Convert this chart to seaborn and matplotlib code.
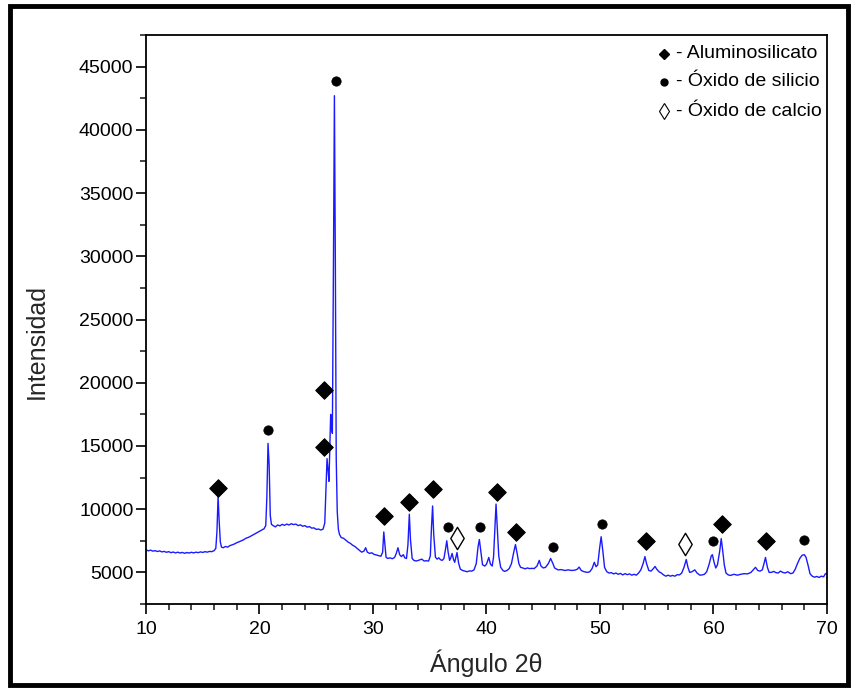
import matplotlib
matplotlib.use("Agg")
import matplotlib.pyplot as plt
import seaborn as sns
import pandas as pd
from matplotlib.patches import Rectangle

# ---- data ----
two_theta = [10.0, 10.2, 10.4, 10.6, 10.8, 11.0, 11.2, 11.4, 11.6, 11.8, 12.0, 12.2, 12.4, 12.6, 12.8,
             13.0, 13.2, 13.4, 13.6, 13.8, 14.0, 14.2, 14.4, 14.6, 14.8, 15.0, 15.2, 15.4, 15.6, 15.8,
             16.0, 16.15, 16.25, 16.35, 16.45, 16.55, 16.65, 16.8, 17.0, 17.2, 17.4, 17.6, 17.8, 18.0,
             18.2, 18.4, 18.6, 18.8, 19.0, 19.2, 19.4, 19.6, 19.8, 20.0, 20.2, 20.4, 20.55, 20.65, 20.75,
             20.85, 20.95, 21.05, 21.2, 21.4, 21.6, 21.8, 22.0, 22.2, 22.4, 22.6, 22.8, 23.0, 23.2, 23.4,
             23.6, 23.8, 24.0, 24.2, 24.4, 24.6, 24.8, 25.0, 25.2, 25.4, 25.6, 25.75, 25.85, 25.95, 26.05,
             26.12, 26.2, 26.27, 26.35, 26.42, 26.52, 26.6, 26.68, 26.76, 26.85, 26.95, 27.05, 27.2, 27.4,
             27.6, 27.8, 28.0, 28.2, 28.4, 28.6, 28.8, 29.0, 29.2, 29.35, 29.5, 29.7, 29.9, 30.1, 30.3,
             30.5, 30.7, 30.85, 30.95, 31.05, 31.15, 31.3, 31.5, 31.7, 31.9, 32.05, 32.2, 32.35, 32.5,
             32.67, 32.8, 32.95, 33.08, 33.2, 33.3, 33.45, 33.6, 33.8, 34.0, 34.3, 34.5, 34.7, 34.9, 35.05,
             35.15, 35.25, 35.35, 35.5, 35.65, 35.8, 35.95, 36.1, 36.25, 36.4, 36.5, 36.62, 36.75, 36.85,
             36.97, 37.1, 37.2, 37.4, 37.55, 37.7, 37.9, 38.1, 38.3, 38.5, 38.7, 38.9, 39.1, 39.25, 39.37,
             39.5, 39.65, 39.85, 40.0, 40.2, 40.35, 40.5, 40.62, 40.74, 40.84, 40.95, 41.08, 41.25, 41.45,
             41.6, 41.8, 42.0, 42.2, 42.4, 42.55, 42.7, 42.85, 43.0, 43.2, 43.4, 43.6, 43.8, 44.0, 44.2,
             44.45, 44.65, 44.8, 45.0, 45.2, 45.45, 45.65, 45.85, 46.0, 46.3, 46.6, 46.9, 47.2, 47.5, 47.8,
             48.0, 48.16, 48.35, 48.6, 48.9, 49.1, 49.3, 49.5, 49.65, 49.8, 49.95, 50.1, 50.25, 50.4, 50.6,
             50.8, 51.0, 51.2, 51.4, 51.6, 51.8, 52.0, 52.2, 52.4, 52.6, 52.8, 53.0, 53.2, 53.4, 53.6, 53.8,
             53.96, 54.1, 54.3, 54.5, 54.7, 54.85, 55.0, 55.2, 55.4, 55.6, 55.8, 56.0, 56.2, 56.4, 56.6,
             56.8, 57.0, 57.2, 57.4, 57.6, 57.75, 57.9, 58.1, 58.35, 58.55, 58.8, 59.0, 59.2, 59.4, 59.6,
             59.8, 59.9, 60.05, 60.2, 60.35, 60.55, 60.68, 60.8, 60.95, 61.1, 61.3, 61.5, 61.8, 62.1, 62.4,
             62.7, 63.0, 63.3, 63.5, 63.7, 63.9, 64.1, 64.3, 64.45, 64.58, 64.75, 64.9, 65.1, 65.3, 65.5,
             65.7, 65.9, 66.1, 66.3, 66.55, 66.8, 67.0, 67.2, 67.4, 67.6, 67.8, 68.0, 68.15, 68.35, 68.5,
             68.7, 68.9, 69.1, 69.3, 69.5, 69.7, 69.85, 70.0]
intensity = [6800, 6700, 6760, 6680, 6720, 6650, 6700, 6620, 6660, 6590, 6640, 6560, 6610, 6540, 6600,
             6530, 6580, 6510, 6570, 6530, 6590, 6540, 6600, 6560, 6620, 6580, 6640, 6600, 6660, 6640,
             6720, 6900, 8200, 11000, 9000, 7400, 7000, 6950, 7050, 7000, 7120, 7180, 7250, 7350,
             7420, 7500, 7580, 7700, 7760, 7850, 7950, 8050, 8150, 8250, 8350, 8450, 8700, 11000, 15200,
             13500, 9500, 8800, 8700, 8600, 8750, 8680, 8800, 8720, 8820, 8750, 8850, 8780, 8820, 8700,
             8760, 8650, 8700, 8580, 8620, 8500, 8520, 8400, 8430, 8350, 8420, 8900, 11500, 14000, 13000,
             12200, 15000, 17500, 16500, 16000, 30000, 42700, 30000, 14000, 9800, 8400, 8000, 7750, 7700,
             7550, 7400, 7300, 7150, 7050, 6900, 6750, 6600, 6680, 6950, 6600, 6500, 6550, 6420, 6380,
             6320, 6280, 6600, 8200, 7200, 6200, 6100, 6150, 6080, 6180, 6500, 6950, 6400, 6250,
             6400, 6150, 6100, 7200, 9600, 7600, 6100, 5950, 5900, 5950, 6050, 5900, 5920, 5900, 6300,
             8500, 10250, 8000, 6200, 6050, 6150, 6000, 5950, 6100, 6900, 7500, 6600, 5950, 6150,
             6500, 6000, 5800, 6570, 5700, 5250, 5150, 5100, 5050, 5120, 5100, 5200, 5700, 7000, 7600,
             6700, 5600, 5500, 5650, 6180, 5650, 5500, 6200, 8500, 10400, 8500, 6300, 5400, 5150,
             5080, 5150, 5300, 5700, 6600, 7200, 6500, 5700, 5400, 5350, 5280, 5350, 5300, 5320, 5300,
             5500, 5950, 5500, 5350, 5400, 5700, 6100, 5700, 5350, 5200, 5220, 5150, 5200, 5150, 5180,
             5250, 5420, 5150, 5050, 5000, 5050, 5300, 5800, 5450, 5600, 6800, 7820, 6700, 5400, 5050,
             4950, 4980, 4880, 4950, 4850, 4920, 4800, 4900, 4820, 4880, 4780, 4850, 4780, 4950, 5200, 5700,
             6250, 5700, 5150, 5100, 5300, 5470, 5250, 5050, 4950, 4800, 4700, 4780, 4700, 4760, 4700,
             4820, 4800, 4950, 5400, 6020, 5400, 5000, 5050, 5200, 4950, 4780, 4800, 4850, 5050, 5600,
             6300, 6400, 5800, 5350, 5600, 6700, 7670, 6800, 5600, 4950, 4800, 4760, 4850, 4780, 4850,
             4900, 4880, 5000, 5200, 5400, 5150, 5100, 5200, 5700, 6180, 5400, 5000, 5000, 5080, 4980,
             4950, 5100, 5000, 4950, 5050, 4900, 4950, 5250, 5700, 6100, 6350, 6400, 6200, 5500, 4900,
             4700, 4620, 4680, 4600, 4700, 4650, 4880, 4950]

alum_x = [16.34, 25.7, 25.7, 30.97, 33.17, 35.29, 40.93, 42.6, 54.05, 60.75, 64.6]
alum_y = [11660, 19430, 14880, 9470, 10570, 11590, 11350, 8210, 7510, 8840, 7510]
silic_x = [20.75, 26.74, 36.6, 39.43, 45.86, 50.18, 59.96, 67.97]
silic_y = [16290, 43890, 8610, 8610, 7040, 8840, 7510, 7590]
calc_x = [37.4, 57.49]
calc_y = [7740, 7270]

legend_labels = ["- Aluminosilicato", "- Óxido de silicio", "- Óxido de calcio"]
x_label = "Ángulo 2\u03b8"
y_label = "Intensidad"

# ---- figure ----
sns.set_theme(style="ticks")
plt.rcParams["font.family"] = ["Liberation Sans", "DejaVu Sans"]

fig = plt.figure(figsize=(8.53, 6.89), dpi=100)
ax = fig.add_axes([146 / 853, 1 - 604 / 689, 681 / 853, 569 / 689])

df = pd.DataFrame({"x": two_theta, "y": intensity})
sns.lineplot(data=df, x="x", y="y", sort=False, estimator=None, color="#1a1aff", lw=1.0, ax=ax)

sns.scatterplot(x=alum_x, y=alum_y, marker="D", s=80, color="black", edgecolor="black", ax=ax, zorder=5)
sns.scatterplot(x=silic_x, y=silic_y, marker="o", s=45, color="black", edgecolor="black", ax=ax, zorder=5)
ax.scatter(calc_x, calc_y, marker="d", s=130, facecolor="white", edgecolor="black", linewidth=1.0, zorder=5)

ax.set_xlim(10, 70)
ax.set_ylim(2900, 47500)
ax.set_xticks(range(10, 71, 10))
ax.set_xticks(range(10, 71, 2), minor=True)
ax.set_yticks(range(5000, 45001, 5000))
ax.set_yticks(range(2500, 47501, 2500), minor=True)
ax.tick_params(axis="both", which="major", direction="out", length=7, width=1.2, labelsize=14, colors="black")
ax.tick_params(axis="y", which="major", pad=2)
ax.tick_params(axis="x", which="major", pad=5)
ax.tick_params(axis="both", which="minor", direction="out", length=4, width=1.2)
for s in ax.spines.values():
    s.set_visible(True)
    s.set_linewidth(1.3)
    s.set_color("black")

ax.set_xlabel(x_label, fontsize=18)
ax.set_ylabel(y_label, fontsize=18)
ax.xaxis.set_label_coords(0.5, -0.105)
ax.xaxis.label.set_verticalalignment("center")
ax.yaxis.set_label_coords(-0.16, 0.462)
ax.yaxis.label.set_verticalalignment("center")

# legend (manual)
leg_y = [0.967, 0.918, 0.866]
mx, tx = 0.761, 0.778
ax.plot([mx], [leg_y[0]], marker="D", ms=5, color="black", transform=ax.transAxes, clip_on=False)
ax.plot([mx], [leg_y[1]], marker="o", ms=5, color="black", transform=ax.transAxes, clip_on=False)
ax.plot([mx], [leg_y[2]], marker="d", ms=8, mfc="white", mec="black", mew=0.8, transform=ax.transAxes, clip_on=False)
for yy, lab in zip(leg_y, legend_labels):
    ax.text(tx, yy, lab, transform=ax.transAxes, fontsize=14, ha="left", va="center", color="black")

# outer frame
fig.patches.append(Rectangle((10 / 853, 1 - 685 / 689), 838 / 853, 679 / 689, transform=fig.transFigure,
                             fill=False, edgecolor="black", linewidth=3.5, zorder=10))

fig.savefig("out.png", dpi=100)
